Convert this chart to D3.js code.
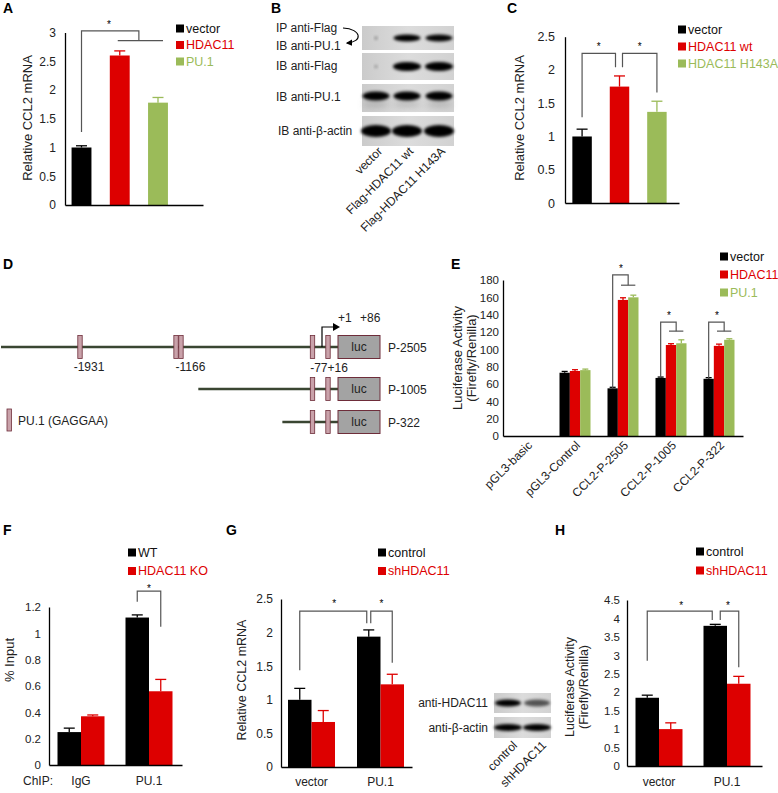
<!DOCTYPE html>
<html><head><meta charset="utf-8">
<script src="https://cdn.jsdelivr.net/npm/d3@7"></script>
<style>
body{margin:0;background:#fff}
svg{display:block}
text{font-family:"Liberation Sans",Arial,sans-serif}
</style>
</head><body>
<svg id="fig" width="778" height="793"></svg>
<script>
// ---------------- DATA ----------------
const colBlack = "#000000", colRed = "#dd0000", colGreen = "#9bbb59";

// Panel A
const aCats = ["vector", "HDAC11", "PU.1"];
const aVals = [1.0, 2.6, 1.78];
const aErrs = [0.03, 0.08, 0.09];
const aTicks = [0, 0.5, 1, 1.5, 2, 2.5, 3];

// Panel B (western blot)
const bRowLabels = [["IP anti-Flag", "IB anti-PU.1"], ["IB anti-Flag"], ["IB anti-PU.1"], ["IB anti-β-actin"]];
const bLanes = ["vector", "Flag-HDAC11 wt", "Flag-HDAC11 H143A"];
const bIntensity = [[0.12, 1.0, 0.75], [0.04, 1.0, 1.0], [1.0, 1.0, 1.0], [1.0, 1.0, 1.0]];

// Panel C
const cCats = ["vector", "HDAC11 wt", "HDAC11 H143A"];
const cVals = [1.0, 1.75, 1.37];
const cErrs = [0.11, 0.16, 0.16];
const cTicks = [0, 0.5, 1, 1.5, 2, 2.5];

// Panel D (promoter constructs)
const dConstructs = ["P-2505", "P-1005", "P-322"];
const dStarts = [-2505, -1005, -322];
const dSites = [-1931, -1185, -1146, -77, 16];
const dSiteLabels = ["-1931", "-1166", "-77+16"];

// Panel E
const eCats = ["pGL3-basic", "pGL3-Control", "CCL2-P-2505", "CCL2-P-1005", "CCL2-P-322"];
const eSeries = ["vector", "HDAC11", "PU.1"];
const eVector = [0, 73, 55, 67, 66];
const eHDAC11 = [0, 75, 157, 105, 104];
const ePU1 = [0, 76, 160, 107, 111];
const eVectorErr = [0, 1.5, 1.2, 1.0, 1.3];
const eHDAC11Err = [0, 1.5, 2.5, 1.5, 2.0];
const ePU1Err = [0, 1.2, 2.5, 4.0, 1.2];
const eTicks = [0, 20, 40, 60, 80, 100, 120, 140, 160, 180];

// Panel F
const fCats = ["IgG", "PU.1"];
const fSeries = ["WT", "HDAC11 KO"];
const fWT = [0.25, 1.12];
const fKO = [0.37, 0.56];
const fWTErr = [0.03, 0.02];
const fKOErr = [0.01, 0.09];
const fTicks = [0, 0.2, 0.4, 0.6, 0.8, 1, 1.2];

// Panel G
const gCats = ["vector", "PU.1"];
const gSeries = ["control", "shHDAC11"];
const gControl = [1.0, 1.94];
const gSh = [0.67, 1.23];
const gControlErr = [0.17, 0.1];
const gShErr = [0.17, 0.15];
const gTicks = [0, 0.5, 1, 1.5, 2, 2.5];
const gBlotRows = ["anti-HDAC11", "anti-β-actin"];
const gBlotLanes = ["control", "shHDAC11"];
const gBlotIntensity = [[1.0, 0.35], [1.0, 1.0]];

// Panel H
const hCats = ["vector", "PU.1"];
const hControl = [1.85, 3.8];
const hSh = [1.0, 2.23];
const hControlErr = [0.07, 0.04];
const hShErr = [0.17, 0.2];
const hTicks = [0, 0.5, 1, 1.5, 2, 2.5, 3, 3.5, 4, 4.5];

// ---------------- HELPERS ----------------
const svg = d3.select("#fig");
const FONT = "'Liberation Sans', Arial, sans-serif";

const defs = svg.append("defs");
defs.append("filter").attr("id", "blur").attr("x", "-50%").attr("y", "-100%").attr("width", "200%").attr("height", "300%")
  .append("feGaussianBlur").attr("stdDeviation", 1.8);
defs.append("filter").attr("id", "blurSoft").attr("x", "-50%").attr("y", "-100%").attr("width", "200%").attr("height", "300%")
  .append("feGaussianBlur").attr("stdDeviation", 3.5);
const gr = defs.append("linearGradient").attr("id", "blotBg").attr("x1", 0).attr("x2", 1).attr("y1", 0).attr("y2", 0);
gr.append("stop").attr("offset", "0%").attr("stop-color", "#cbcbcb");
gr.append("stop").attr("offset", "50%").attr("stop-color", "#dcdcdc");
gr.append("stop").attr("offset", "100%").attr("stop-color", "#d2d2d2");
defs.append("marker").attr("id", "arrowHead").attr("viewBox", "0 0 10 10").attr("refX", 8).attr("refY", 5)
  .attr("markerWidth", 6).attr("markerHeight", 6).attr("orient", "auto")
  .append("path").attr("d", "M0,0 L10,5 L0,10 z").attr("fill", "#000");

function panelLetter(t, x, y) {
  svg.append("text").attr("x", x).attr("y", y).text(t)
    .attr("font-weight", "bold").attr("font-size", 14).attr("fill", "#000");
}

function yAxis(y, ticks, x, fs, pad) {
  const ax = svg.append("g").attr("transform", `translate(${x},0)`)
    .call(d3.axisLeft(y).tickValues(ticks).tickSize(0).tickSizeOuter(0).tickPadding(pad || 9).tickFormat(d => String(d)));
  ax.select(".domain").attr("stroke", "#000").attr("stroke-width", 1.3);
  ax.selectAll("text").attr("font-size", fs).attr("fill", "#222").attr("font-family", FONT);
  return ax;
}

function xLine(x0, x1, yPos) {
  const xs = d3.scaleLinear().domain([0, 1]).range([x0, x1]);
  const ax = svg.append("g").attr("transform", `translate(0,${yPos})`)
    .call(d3.axisBottom(xs).tickValues([]).tickSizeOuter(0));
  ax.select(".domain").attr("stroke", "#000").attr("stroke-width", 1.3);
}

function yLabel(lines, x, yc, fs, gap) {
  const g = svg.append("g").attr("transform", `translate(${x},${yc}) rotate(-90)`);
  lines.forEach((l, i) => {
    g.append("text").attr("x", 0).attr("y", i * (gap || 14)).attr("text-anchor", "middle")
      .attr("font-size", fs).attr("fill", "#222").text(l);
  });
}

// bars with up-only error bars
function bars(items, y, bw, capW) {
  const g = svg.append("g");
  g.selectAll("rect").data(items).join("rect")
    .attr("x", d => d.cx - bw / 2).attr("width", bw)
    .attr("y", d => y(d.v)).attr("height", d => y(0) - y(d.v))
    .attr("fill", d => d.color);
  const eg = g.selectAll("g.err").data(items.filter(d => d.e > 0)).join("g").attr("class", "err")
    .attr("stroke", d => d.color).attr("stroke-width", 1.3);
  eg.append("line").attr("x1", d => d.cx).attr("x2", d => d.cx).attr("y1", d => y(d.v)).attr("y2", d => y(d.v + d.e));
  eg.append("line").attr("x1", d => d.cx - capW / 2).attr("x2", d => d.cx + capW / 2)
    .attr("y1", d => y(d.v + d.e)).attr("y2", d => y(d.v + d.e));
}

function legend(names, colors, x, y0, dy, fs, sq) {
  const g = svg.append("g");
  names.forEach((n, i) => {
    const yy = y0 + i * dy;
    g.append("rect").attr("x", x).attr("y", yy - sq + 0.5).attr("width", sq).attr("height", sq).attr("fill", colors[i]);
    g.append("text").attr("x", x + sq + 2).attr("y", yy + 0.5).attr("font-size", fs)
      .attr("fill", colors[i] === colBlack ? "#111" : colors[i]).text(n);
  });
}

function bracket(pathPts, extra) {
  const line = d3.line();
  svg.append("path").attr("d", line(pathPts)).attr("fill", "none").attr("stroke", "#555").attr("stroke-width", 1.2);
  if (extra) svg.append("path").attr("d", line(extra)).attr("fill", "none").attr("stroke", "#555").attr("stroke-width", 1.2);
}
function star(x, y) {
  svg.append("text").attr("x", x).attr("y", y).attr("text-anchor", "middle").attr("font-size", 10).attr("fill", "#000").text("*");
}

function blot(x0, x1, rows, laneX, intens, rowsY, rowH, bandW, bandH, blurId, smear) {
  const g = svg.append("g");
  rows.forEach((r, i) => {
    g.append("rect").attr("x", x0).attr("y", rowsY[i]).attr("width", x1 - x0).attr("height", rowH[i])
      .attr("fill", "url(#blotBg)");
    const cy = rowsY[i] + rowH[i] / 2;
    intens[i].forEach((v, j) => {
      if (v <= 0) return;
      const w = v < 0.2 ? 3 : bandW[i];
      if (smear && smear[i]) {
        g.append("ellipse").attr("cx", laneX[j]).attr("cy", cy + 6).attr("rx", bandW[i] / 2).attr("ry", 3)
          .attr("fill", "#666").attr("opacity", 0.35).attr("filter", "url(#blurSoft)");
      }
      g.append("ellipse").attr("cx", laneX[j]).attr("cy", cy - (smear && smear[i] ? 2 : 0))
        .attr("rx", w / 2).attr("ry", v < 0.2 ? 1.5 : bandH[i] / 2)
        .attr("fill", "#050505").attr("opacity", Math.min(1, 0.3 + v * 0.9))
        .attr("filter", `url(#${blurId})`);
    });
  });
  return g;
}

// ---------------- PANEL A ----------------
panelLetter("A", 3, 13);
{
  const y = d3.scaleLinear().domain([0, 3]).range([205, 32.5]);
  const x = d3.scaleBand().domain(aCats).range([62, 177.5]).paddingInner(0.48).paddingOuter(0.25);
  const cols = [colBlack, colRed, colGreen];
  yAxis(y, aTicks, 65, 12, 9);
  bars(aCats.map((c, i) => ({cx: x(c) + x.bandwidth() / 2, v: aVals[i], e: aErrs[i], color: cols[i]})), y, x.bandwidth(), 11);
  xLine(65, 203, y(0));
  yLabel(["Relative CCL2 mRNA"], 32, 118, 13);
  legend(aCats, cols, 176, 32, 16.5, 12.5, 8);
  const c0 = x("vector") + x.bandwidth() / 2, c1 = x("HDAC11") + x.bandwidth() / 2, c2 = x("PU.1") + x.bandwidth() / 2;
  bracket([[c0, y(1.27)], [c0, y(3.03)], [(c1 + c2) / 2, y(3.03)], [(c1 + c2) / 2, y(2.86)]], [[c1 - 2, y(2.86)], [c2 + 5, y(2.86)]]);
  star(109, 28);
}

// ---------------- PANEL B ----------------
panelLetter("B", 271, 13);
{
  const laneX = [376, 407, 439];
  const rowsY = [26, 53, 84, 116];
  const rowH = [24, 27, 28, 30];
  blot(362, 454, bRowLabels, laneX, bIntensity, rowsY, rowH, [27, 28, 27, 30], [7, 9, 9, 12], "blur", [false, false, true, false]);
  const labY = [[32, 50], [70], [101], [135]];
  bRowLabels.forEach((ls, i) => ls.forEach((l, k) => {
    svg.append("text").attr("x", 276 + (i === 3 ? 2 : 0)).attr("y", labY[i][k]).attr("font-size", 12).attr("fill", "#222").text(l);
  }));
  svg.append("path").attr("d", "M343,28 C362,29 363,42 347,43").attr("fill", "none").attr("stroke", "#000")
    .attr("stroke-width", 1.1).attr("marker-end", "url(#arrowHead)");
  bLanes.forEach((l, j) => {
    svg.append("text").attr("transform", `translate(${laneX[j] + 7},${152}) rotate(-45)`)
      .attr("text-anchor", "end").attr("font-size", 12).attr("fill", "#222").text(l);
  });
}

// ---------------- PANEL C ----------------
panelLetter("C", 507, 13);
{
  const y = d3.scaleLinear().domain([0, 2.5]).range([203, 36.7]);
  const x = d3.scaleBand().domain(cCats).range([563, 676]).paddingInner(0.48).paddingOuter(0.25);
  const cols = [colBlack, colRed, colGreen];
  yAxis(y, cTicks, 565, 12.5, 10);
  bars(cCats.map((c, i) => ({cx: x(c) + x.bandwidth() / 2, v: cVals[i], e: cErrs[i], color: cols[i]})), y, x.bandwidth(), 11);
  xLine(565, 679, y(0));
  yLabel(["Relative CCL2 mRNA"], 524, 118, 13);
  legend(cCats, cols, 678, 33, 17, 12.5, 8);
  const c0 = x(cCats[0]) + x.bandwidth() / 2, c1 = x(cCats[1]) + x.bandwidth() / 2, c2 = x(cCats[2]) + x.bandwidth() / 2;
  bracket([[c0, y(1.29)], [c0, y(2.25)], [c1 - 4, y(2.25)], [c1 - 4, y(2.04)]]);
  bracket([[c1 + 3, y(2.04)], [c1 + 3, y(2.25)], [c2, y(2.25)], [c2, y(1.66)]]);
  star((c0 + c1 - 4) / 2, 50);
  star((c1 + 3 + c2) / 2, 50);
}

// ---------------- PANEL D ----------------
panelLetter("D", 3, 269);
{
  const bp = d3.scaleLinear().domain([-2505, -1931, -1166, -77, 1, 16, 86]).range([1, 80, 178.5, 312.5, 322, 328, 338]);
  const rowY = [347, 389, 422];
  const lineCol = "#3a4632", boxFill = "#c9a2aa", boxStroke = "#6e2d3a";
  dConstructs.forEach((name, i) => {
    const yy = rowY[i];
    svg.append("line").attr("x1", bp(dStarts[i])).attr("x2", bp(86)).attr("y1", yy).attr("y2", yy)
      .attr("stroke", lineCol).attr("stroke-width", 2.5);
    dSites.filter(s => s >= dStarts[i]).forEach(s => {
      svg.append("rect").attr("x", bp(s) - 2.2).attr("y", yy - 11.5).attr("width", 4.4).attr("height", 23)
        .attr("fill", boxFill).attr("stroke", boxStroke).attr("stroke-width", 0.8);
    });
    svg.append("rect").attr("x", bp(86)).attr("y", yy - 11.5).attr("width", 42).attr("height", 23)
      .attr("fill", "#a3a3a3").attr("stroke", boxStroke).attr("stroke-width", 1);
    svg.append("text").attr("x", bp(86) + 21).attr("y", yy + 4).attr("text-anchor", "middle").attr("font-size", 12).attr("fill", "#222").text("luc");
    svg.append("text").attr("x", 388).attr("y", yy + 5).attr("font-size", 12).attr("fill", "#222").text(name);
  });
  svg.append("text").attr("x", bp(-1931) + 9).attr("y", 371).attr("text-anchor", "middle").attr("font-size", 12).attr("fill", "#222").text(dSiteLabels[0]);
  svg.append("text").attr("x", bp(-1166) + 12).attr("y", 371).attr("text-anchor", "middle").attr("font-size", 12).attr("fill", "#222").text(dSiteLabels[1]);
  svg.append("text").attr("x", bp(16) + 1).attr("y", 372).attr("text-anchor", "middle").attr("font-size", 12).attr("fill", "#222").text(dSiteLabels[2]);
  svg.append("path").attr("d", `M${bp(1)},${rowY[0]} V${rowY[0] - 20} H${bp(1) + 13}`).attr("fill", "none").attr("stroke", "#000").attr("stroke-width", 1.2);
  svg.append("path").attr("d", `M${bp(1) + 11},${rowY[0] - 24} L${bp(1) + 18},${rowY[0] - 20} L${bp(1) + 11},${rowY[0] - 16} z`).attr("fill", "#000");
  svg.append("text").attr("x", 338).attr("y", 322).attr("font-size", 12).attr("fill", "#222").text("+1");
  svg.append("text").attr("x", 360).attr("y", 322).attr("font-size", 12).attr("fill", "#222").text("+86");
  svg.append("rect").attr("x", 7).attr("y", 409).attr("width", 4.4).attr("height", 22).attr("fill", boxFill).attr("stroke", boxStroke).attr("stroke-width", 0.8);
  svg.append("text").attr("x", 18).attr("y", 425).attr("font-size", 12).attr("fill", "#222").text("PU.1 (GAGGAA)");
}

// ---------------- PANEL E ----------------
panelLetter("E", 451, 269);
{
  const y = d3.scaleLinear().domain([0, 180]).range([436, 280]);
  const x = d3.scaleBand().domain(eCats).range([503, 743]);
  const sub = d3.scaleBand().domain(eSeries).range([-15.5, 15.5]);
  const cols = [colBlack, colRed, colGreen];
  const vals = [eVector, eHDAC11, ePU1], errs = [eVectorErr, eHDAC11Err, ePU1Err];
  yAxis(y, eTicks, 503, 11.5, 4);
  const items = [];
  eCats.forEach((c, i) => eSeries.forEach((s, k) => items.push({cx: x(c) + x.bandwidth() / 2 + sub(s) + sub.bandwidth() / 2, v: vals[k][i], e: errs[k][i], color: cols[k]})));
  bars(items, y, sub.bandwidth(), 6);
  xLine(503, 743, y(0));
  eCats.forEach(c => {
    svg.append("text").attr("transform", `translate(${x(c) + x.bandwidth() / 2 + 6},${446}) rotate(-45)`)
      .attr("text-anchor", "end").attr("font-size", 12).attr("fill", "#222").text(c);
  });
  yLabel(["Luciferase Activity", "(Firefly/Renilla)"], 462, 358, 13, 14);
  legend(eSeries, cols, 720, 260, 18, 12.5, 8);
  const subC = s => sub(s) + sub.bandwidth() / 2;
  const lv = [null, null, [186, 174], [131.5, 121], [131.5, 121]];
  [2, 3, 4].forEach(i => {
    const cc = x(eCats[i]) + x.bandwidth() / 2;
    const xb = cc + subC("vector"), xr = cc + subC("HDAC11"), xg = cc + subC("PU.1");
    const [top, low] = lv[i];
    bracket([[xb, y(eVector[i])], [xb, y(top)], [(xr + xg) / 2, y(top)], [(xr + xg) / 2, y(low)]], [[xr - 2, y(low)], [xg + 2, y(low)]]);
    star(xr - 2, y(top) - 3);
  });
}

// ---------------- PANEL F ----------------
panelLetter("F", 3, 535);
{
  const y = d3.scaleLinear().domain([0, 1.2]).range([765, 607]);
  const x = d3.scaleBand().domain(fCats).range([47, 183]);
  const sub = d3.scaleBand().domain(fSeries).range([-23.5, 23.5]);
  const cols = [colBlack, colRed];
  yAxis(y, fTicks, 49, 11.5, 8);
  const vals = [fWT, fKO], errs = [fWTErr, fKOErr];
  const items = [];
  fCats.forEach((c, i) => fSeries.forEach((s, k) => items.push({cx: x(c) + x.bandwidth() / 2 + sub(s) + sub.bandwidth() / 2, v: vals[k][i], e: errs[k][i], color: cols[k]})));
  bars(items, y, sub.bandwidth(), 11);
  xLine(49, 182, y(0));
  svg.append("text").attr("x", 23).attr("y", 785).attr("font-size", 12).attr("fill", "#222").text("ChIP:");
  fCats.forEach(c => svg.append("text").attr("x", x(c) + x.bandwidth() / 2).attr("y", 785).attr("text-anchor", "middle").attr("font-size", 12).attr("fill", "#222").text(c));
  yLabel(["% Input"], 14, 660, 13);
  legend(fSeries, cols, 128, 556, 18.5, 12.5, 8);
  const cc = x("PU.1") + x.bandwidth() / 2;
  const xw = cc + sub("WT") + sub.bandwidth() / 2, xk = cc + sub("HDAC11 KO") + sub.bandwidth() / 2;
  bracket([[xw, y(1.24)], [xw, y(1.32)], [xk, y(1.32)], [xk, y(1.05)]]);
  star((xw + xk) / 2, 592);
}

// ---------------- PANEL G ----------------
panelLetter("G", 226, 535);
{
  const y = d3.scaleLinear().domain([0, 2.5]).range([767, 599]);
  const x = d3.scaleBand().domain(gCats).range([277, 415]);
  const sub = d3.scaleBand().domain(gSeries).range([-23.5, 23.5]);
  const cols = [colBlack, colRed];
  yAxis(y, gTicks, 281, 12, 8);
  const vals = [gControl, gSh], errs = [gControlErr, gShErr];
  const items = [];
  gCats.forEach((c, i) => gSeries.forEach((s, k) => items.push({cx: x(c) + x.bandwidth() / 2 + sub(s) + sub.bandwidth() / 2, v: vals[k][i], e: errs[k][i], color: cols[k]})));
  bars(items, y, sub.bandwidth(), 11);
  xLine(281, 412, y(0));
  gCats.forEach(c => svg.append("text").attr("x", x(c) + x.bandwidth() / 2).attr("y", 786).attr("text-anchor", "middle").attr("font-size", 12).attr("fill", "#222").text(c));
  yLabel(["Relative CCL2 mRNA"], 246, 680, 12.5);
  legend(gSeries, cols, 378, 556, 18.5, 12.5, 8);
  const cx = (c, s) => x(c) + x.bandwidth() / 2 + sub(s) + sub.bandwidth() / 2;
  const v0 = cx("vector", "control"), p0 = cx("PU.1", "control"), p1 = cx("PU.1", "shHDAC11");
  bracket([[v0, y(1.44)], [v0, y(2.32)], [p0 - 2, y(2.32)], [p0 - 2, y(2.14)]]);
  bracket([[p0 + 2, y(2.14)], [p0 + 2, y(2.32)], [p1, y(2.32)], [p1, y(1.55)]]);
  star((v0 + p0) / 2, 607);
  star((p0 + p1) / 2 + 1, 607);
  const laneX = [508, 537];
  blot(494, 551, gBlotRows, laneX, gBlotIntensity, [693, 717], [20, 21], [26, 28], [7, 7], "blur", null);
  gBlotRows.forEach((r, i) => svg.append("text").attr("x", 488).attr("y", [707, 732][i]).attr("text-anchor", "end").attr("font-size", 12).attr("fill", "#222").text(r));
  gBlotLanes.forEach((l, j) => svg.append("text").attr("transform", `translate(${laneX[j] + 10},${746}) rotate(-45)`)
    .attr("text-anchor", "end").attr("font-size", 12).attr("fill", "#222").text(l));
}

// ---------------- PANEL H ----------------
panelLetter("H", 555, 535);
{
  const y = d3.scaleLinear().domain([0, 4.5]).range([766, 600]);
  const x = d3.scaleBand().domain(hCats).range([625, 761]);
  const sub = d3.scaleBand().domain(gSeries).range([-23.5, 23.5]);
  const cols = [colBlack, colRed];
  yAxis(y, hTicks, 627, 11.5, 7);
  const vals = [hControl, hSh], errs = [hControlErr, hShErr];
  const items = [];
  hCats.forEach((c, i) => gSeries.forEach((s, k) => items.push({cx: x(c) + x.bandwidth() / 2 + sub(s) + sub.bandwidth() / 2, v: vals[k][i], e: errs[k][i], color: cols[k]})));
  bars(items, y, sub.bandwidth(), 11);
  xLine(627, 762, y(0));
  hCats.forEach(c => svg.append("text").attr("x", x(c) + x.bandwidth() / 2).attr("y", 786).attr("text-anchor", "middle").attr("font-size", 12).attr("fill", "#222").text(c));
  yLabel(["Luciferase Activity", "(Firefly/Renilla)"], 574, 687, 12.5, 13.5);
  legend(gSeries, cols, 696, 555, 19, 12.5, 8);
  const cx = (c, s) => x(c) + x.bandwidth() / 2 + sub(s) + sub.bandwidth() / 2;
  const v0 = cx("vector", "control"), p0 = cx("PU.1", "control"), p1 = cx("PU.1", "shHDAC11");
  bracket([[v0, y(2.85)], [v0, y(4.2)], [p0 - 3, y(4.2)], [p0 - 3, y(3.96)]]);
  bracket([[p0 + 5, y(3.96)], [p0 + 5, y(4.2)], [p1, y(4.2)], [p1, y(2.68)]]);
  star((v0 + p0) / 2, 609);
  star((p0 + p1) / 2 + 1, 609);
}
</script>
</body></html>
